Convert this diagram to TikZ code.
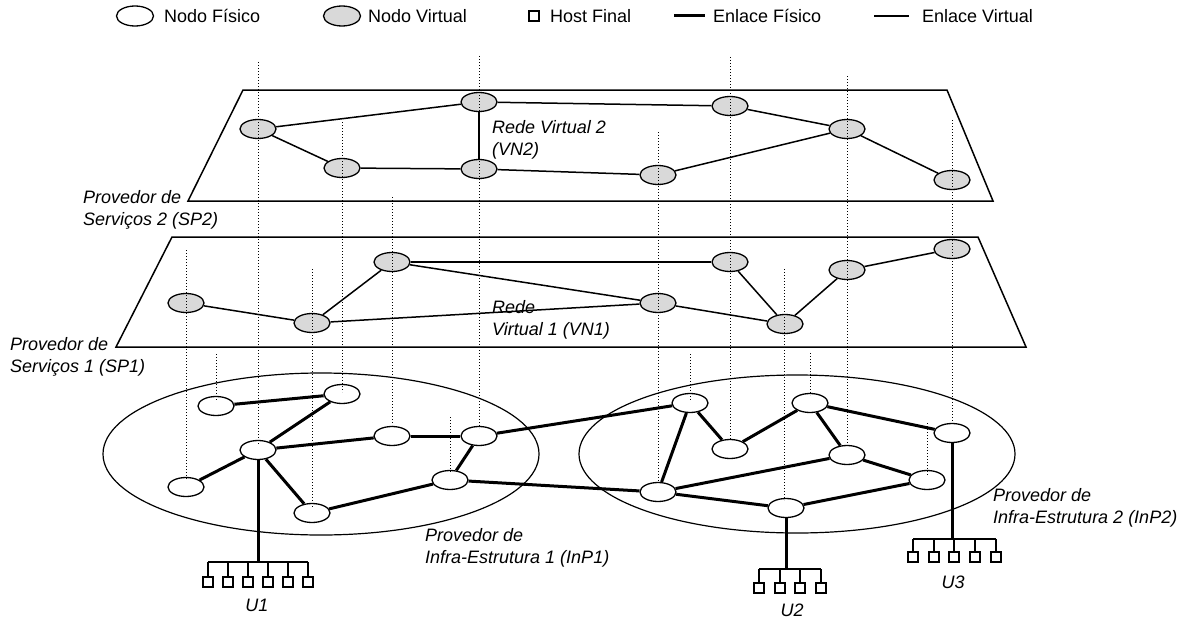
\documentclass[tikz,border=0pt]{standalone}
\usepackage{fontspec}
\setmainfont{Liberation Sans}
\usetikzlibrary{shapes.geometric}
\begin{document}
\begin{tikzpicture}[x=1pt,y=-1pt,
  phys/.style={ellipse,draw,line width=1.3pt,fill=white,minimum width=36pt,minimum height=19pt,inner sep=0pt},
  virt/.style={phys,fill=gray!30},
  host/.style={rectangle,draw,line width=1.3pt,fill=white,minimum size=10pt,inner sep=0pt},
  plink/.style={line width=3pt},
  vlink/.style={line width=1.5pt},
  bus/.style={line width=1.3pt},
  proj/.style={dotted,line width=1pt},
  plane/.style={line width=1.5pt},
  region/.style={line width=1.2pt},
  lbl/.style={font=\itshape\fontsize{18}{22}\selectfont,align=left,inner sep=0pt},
  leg/.style={font=\fontsize{18}{22}\selectfont,inner sep=0pt,anchor=west}
]
\useasboundingbox (0,0) rectangle (1193,618);

% ---------- legend ----------
\node[phys,minimum width=37pt,minimum height=20pt] (lgp) at (135,16) {};
\node[leg] (lgpt) at (164,16) {Nodo Físico};
\node[virt,minimum width=37pt,minimum height=20pt] (lgv) at (342,16) {};
\node[leg] (lgvt) at (368,16) {Nodo Virtual};
\node[host] (lgh) at (534,16) {};
\node[leg] (lght) at (550,16) {Host Final};
\coordinate (lgl1a) at (674,16); \coordinate (lgl1b) at (705,16);
\draw[plink] (lgl1a) -- (lgl1b);
\node[leg] (lgl1t) at (713,16) {Enlace Físico};
\coordinate (lgl2a) at (874,16); \coordinate (lgl2b) at (909,16);
\draw[vlink] (lgl2a) -- (lgl2b);
\node[leg] (lgl2t) at (922,16) {Enlace Virtual};

% ---------- regions ----------
\draw[region] (321,454) ellipse [x radius=218, y radius=81];
\draw[region] (797,454) ellipse [x radius=218, y radius=79];
\draw[plane] (243,90) -- (947,90) -- (993,201) -- (188,201) -- cycle;
\draw[plane] (172,237) -- (978,237) -- (1026,347) -- (116,347) -- cycle;

% ---------- top plane (VN2) ----------
\node[virt] (A) at (258,129) {};
\node[virt] (B) at (342,168) {};
\node[virt] (C) at (479,102) {};
\node[virt] (D) at (479,169) {};
\node[virt] (E) at (730,106) {};
\node[virt] (F) at (847,129) {};
\node[virt] (G) at (658,175) {};
\node[virt] (H) at (952,180) {};
\draw[vlink] (A) -- (C);
\draw[vlink] (A) -- (B);
\draw[vlink] (B) -- (D);
\draw[vlink] (C) -- (D);
\draw[vlink] (C) -- (E);
\draw[vlink] (D) -- (G);
\draw[vlink] (E) -- (F);
\draw[vlink] (G) -- (F);
\draw[vlink] (F) -- (H);

% ---------- middle plane (VN1) ----------
\node[virt] (a) at (186,303) {};
\node[virt] (b) at (312,323) {};
\node[virt] (c) at (392,262) {};
\node[virt] (d) at (730,262) {};
\node[virt] (e) at (658,303) {};
\node[virt] (f) at (785,324) {};
\node[virt] (g) at (847,270) {};
\node[virt] (h) at (952,249) {};
\draw[vlink] (a) -- (b);
\draw[vlink] (b) -- (c);
\draw[vlink] (c) -- (d);
\draw[vlink] (c) -- (e);
\draw[vlink] (b) -- (e);
\draw[vlink] (e) -- (f);
\draw[vlink] (d) -- (f);
\draw[vlink] (f) -- (g);
\draw[vlink] (g) -- (h);

% ---------- physical network ----------
\node[phys] (p1) at (216,406) {};
\node[phys] (p2) at (342,394) {};
\node[phys] (p3) at (258,450) {};
\node[phys] (p4) at (392,436) {};
\node[phys] (p5) at (479,436) {};
\node[phys] (p6) at (450,480) {};
\node[phys] (p7) at (186,487) {};
\node[phys] (p8) at (312,513) {};
\node[phys] (q1) at (690,403) {};
\node[phys] (q2) at (730,449) {};
\node[phys] (q3) at (810,403) {};
\node[phys] (q4) at (847,455) {};
\node[phys] (q5) at (658,492) {};
\node[phys] (q6) at (786,508) {};
\node[phys] (q7) at (927,480) {};
\node[phys] (q8) at (952,433) {};
\begin{scope}[plink]
\draw (p1) -- (p2);
\draw (p2) -- (p3);
\draw (p3) -- (p4);
\draw (p4) -- (p5);
\draw (p3) -- (p7);
\draw (p3) -- (p8);
\draw (p8) -- (p6);
\draw (p6) -- (p5);
\draw (p5) -- (q1);
\draw (p6) -- (q5);
\draw (q1) -- (q2);
\draw (q2) -- (q3);
\draw (q3) -- (q4);
\draw (q3) -- (q8);
\draw (q4) -- (q7);
\draw (q4) -- (q5);
\draw (q5) -- (q6);
\draw (q6) -- (q7);
\draw (q1) -- (q5);
\end{scope}

% ---------- hosts ----------
\coordinate (u1) at (258,562);
\coordinate (u1l) at (208,562); \coordinate (u1r) at (308,562);
\draw[plink] (p3) -- (u1);
\draw[bus] (u1l) -- (u1r);
\foreach \i/\x in {1/208,2/228,3/248,4/268,5/288,6/308}{
  \node[host] (h1\i) at (\x,582) {};
  \draw[bus] (\x,562) -- (h1\i.north);
}
\node[lbl] (U1) at (257,605) {U1};

\coordinate (u2) at (786,569);
\coordinate (u2l) at (759,569); \coordinate (u2r) at (821,569);
\draw[plink] (q6) -- (u2);
\draw[bus] (u2l) -- (u2r);
\foreach \i/\x in {1/759,2/780,3/800,4/821}{
  \node[host] (h2\i) at (\x,588) {};
  \draw[bus] (\x,569) -- (h2\i.north);
}
\node[lbl] (U2) at (792,610) {U2};

\coordinate (u3) at (952,539);
\coordinate (u3l) at (913,539); \coordinate (u3r) at (996,539);
\draw[plink] (q8) -- (u3);
\draw[bus] (u3l) -- (u3r);
\foreach \i/\x in {1/913,2/934,3/954,4/975,5/996}{
  \node[host] (h3\i) at (\x,557) {};
  \draw[bus] (\x,539) -- (h3\i.north);
}
\node[lbl] (U3) at (953,582) {U3};

% ---------- projection lines ----------
\foreach \x/\ya/\yb in {186/250/480, 216/354/400, 258/62/445, 312/269/507,
  342/122/392, 392/197/425, 450/417/473, 479/56/428, 658/132/482,
  690/354/400, 730/57/440, 784/269/500, 810/353/395, 847/76/445,
  927/423/475, 952/120/425}{
  \draw[proj] (\x,\ya) -- (\x,\yb);
}

% ---------- labels ----------
\node[lbl,anchor=west] (sp2) at (83,210) {Provedor de\\Serviços 2 (SP2)};
\node[lbl,anchor=west] (sp1) at (10,357) {Provedor de\\Serviços 1 (SP1)};
\node[lbl,anchor=west] (vn2) at (492,140) {Rede Virtual 2\\(VN2)};
\node[lbl,anchor=west] (vn1) at (492,320) {Rede\\Virtual 1 (VN1)};
\node[lbl,anchor=west] (inp1) at (425,548) {Provedor de\\Infra-Estrutura 1 (InP1)};
\node[lbl,anchor=west] (inp2) at (993,508) {Provedor de\\Infra-Estrutura 2 (InP2)};
\end{tikzpicture}
\end{document}
